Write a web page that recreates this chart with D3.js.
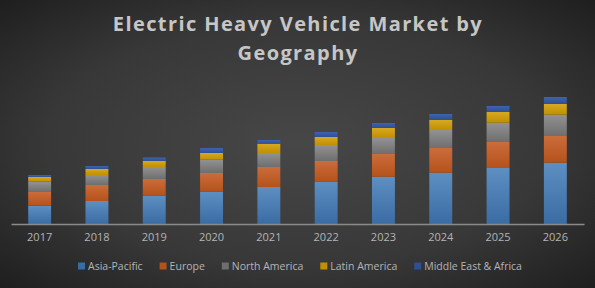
<!DOCTYPE html>
<html>
<head>
<meta charset="utf-8">
<script src="https://cdn.jsdelivr.net/npm/d3@7"></script>
<style>
  html, body { margin: 0; padding: 0; background: #2b2b2b; }
  svg { display: block; }
</style>
</head>
<body>
<div id="chart"></div>
<script>
// data (arbitrary units, no value axis shown)
var years = ["2017", "2018", "2019", "2020", "2021", "2022", "2023", "2024", "2025", "2026"];
var regions = ["Asia-Pacific", "Europe", "North America", "Latin America", "Middle East & Africa"];
var asiaPacific = [18.3, 23, 28.3, 32.3, 37, 42.3, 47.3, 51.3, 56, 61.3];
var europe = [13.7, 16, 16.7, 18.7, 20, 20.7, 22.7, 24.7, 26, 26.7];
var northAmerica = [10.3, 10, 12, 13.3, 14, 16, 16, 18, 19.3, 21.3];
var latinAmerica = [4.7, 6, 6, 6.7, 9.3, 8, 10, 10, 10.7, 10.7];
var middleEastAfrica = [2, 3, 3.5, 5, 3.7, 5, 5, 6, 6, 7];

var colors = [
   ["#5d8fc2", "#3a6ca4"],
   ["#cb6c3c", "#b4521a"],
   ["#929292", "#6e6e6e"],
   ["#d7a823", "#bf9000"],
   ["#3f63ad", "#2e4f96"]
];

var width = 595, height = 288;
var margin = {top: 0, right: 11, bottom: 64, left: 11};

var svg = d3.select("#chart").append("svg")
   .attr("width", width)
   .attr("height", height);

var defs = svg.append("defs");

// background: soft radial glow in the middle
var bg = defs.append("radialGradient")
   .attr("id", "bg")
   .attr("cx", "50%").attr("cy", "50%").attr("r", "70%");
bg.append("stop").attr("offset", "0%").attr("stop-color", "#474747");
bg.append("stop").attr("offset", "60%").attr("stop-color", "#383838");
bg.append("stop").attr("offset", "100%").attr("stop-color", "#1f1f1f");

colors.forEach(function(c, i) {
   var g = defs.append("linearGradient")
      .attr("id", "grad" + i)
      .attr("x1", 0).attr("y1", 0).attr("x2", 0).attr("y2", 1);
   g.append("stop").attr("offset", "0%").attr("stop-color", c[0]);
   g.append("stop").attr("offset", "100%").attr("stop-color", c[1]);
});

svg.append("rect")
   .attr("width", width)
   .attr("height", height)
   .attr("fill", "url(#bg)");

// title
var title = svg.append("text")
   .attr("x", 298)
   .attr("text-anchor", "middle")
   .attr("font-family", "'Open Sans', sans-serif")
   .attr("font-weight", "bold")
   .attr("font-size", "20px")
   .attr("letter-spacing", "1.4px")
   .attr("fill", "#c6c6c6");
title.append("tspan").attr("x", 298).attr("y", 31).text("Electric Heavy Vehicle Market by");
title.append("tspan").attr("x", 298).attr("y", 60).text("Geography");

// stack the series
var table = years.map(function(y, i) {
   return {
      year: y,
      "Asia-Pacific": asiaPacific[i],
      "Europe": europe[i],
      "North America": northAmerica[i],
      "Latin America": latinAmerica[i],
      "Middle East & Africa": middleEastAfrica[i]
   };
});
var series = d3.stack().keys(regions)(table);

var x = d3.scaleBand()
   .domain(years)
   .range([margin.left, width - margin.right])
   .paddingInner(0.6)
   .paddingOuter(0.3);

var baseline = 224;
var y = d3.scaleLinear()
   .domain([0, 130])
   .range([baseline, baseline - 130]);

var g = svg.append("g");
g.selectAll("g.series")
   .data(series)
   .enter().append("g")
   .attr("class", "series")
   .attr("fill", function(d, i) { return "url(#grad" + i + ")"; })
   .selectAll("rect")
   .data(function(d) { return d; })
   .enter().append("rect")
   .attr("x", function(d) { return x(d.data.year); })
   .attr("width", x.bandwidth())
   .attr("y", function(d) { return y(d[1]); })
   .attr("height", function(d) { return y(d[0]) - y(d[1]); });

// category axis
var axis = svg.append("g")
   .attr("transform", "translate(0," + baseline + ")")
   .call(d3.axisBottom(x).tickSize(0).tickPadding(9));
axis.select(".domain")
   .attr("stroke", "#8a8a8a")
   .attr("stroke-width", 1.3);
axis.selectAll("text")
   .attr("fill", "#b4b4b4")
   .attr("font-family", "'Open Sans', sans-serif")
   .attr("font-size", "11px");

// legend
var legend = svg.append("g").attr("transform", "translate(0,266)");
var cursor = 0;
regions.forEach(function(r, i) {
   var item = legend.append("g").attr("transform", "translate(" + cursor + ",0)");
   item.append("rect")
      .attr("x", 0).attr("y", -3.5)
      .attr("width", 7).attr("height", 7)
      .attr("fill", colors[i][1]);
   var t = item.append("text")
      .attr("x", 10).attr("y", 4)
      .attr("fill", "#b4b4b4")
      .attr("font-family", "'Open Sans', sans-serif")
      .attr("font-size", "10.5px")
      .text(r);
   cursor += 10 + t.node().getComputedTextLength() + 17;
});
var legendWidth = cursor - 17;
legend.attr("transform", "translate(" + (300 - legendWidth / 2) + ",266)");
</script>
</body>
</html>
